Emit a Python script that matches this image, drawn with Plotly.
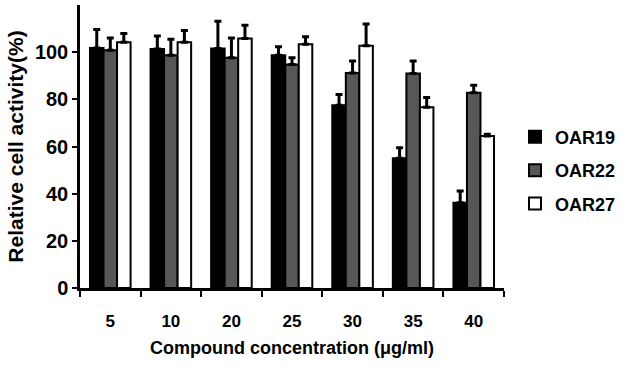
import plotly.graph_objects as go

categories = ["5", "10", "20", "25", "30", "35", "40"]
series_names = ["OAR19", "OAR22", "OAR27"]
oar19 = [101.8, 101.3, 101.6, 98.7, 77.5, 55.0, 36.1]
oar19_err = [7.8, 5.6, 11.5, 3.6, 4.6, 4.5, 5.0]
oar22 = [100.8, 98.7, 97.6, 94.8, 91.2, 91.0, 82.8]
oar22_err = [5.2, 6.8, 8.4, 2.8, 5.1, 5.3, 3.2]
oar27 = [104.2, 104.2, 105.8, 103.4, 102.7, 76.6, 64.4]
oar27_err = [3.7, 5.0, 5.6, 3.1, 9.2, 4.2, 0.8]
y_ticks = [0, 20, 40, 60, 80, 100]

colors = ["#000000", "#575757", "#ffffff"]
values = [oar19, oar22, oar27]
errors = [oar19_err, oar22_err, oar27_err]

FONT = "Liberation Sans, Arial, sans-serif"
fig = go.Figure()
for name, vals, errs, col in zip(series_names, values, errors, colors):
    fig.add_trace(go.Bar(
        x=categories, y=vals, name=name, legendgroup=name,
        marker=dict(color=col, line=dict(color="#000000", width=2)),
        error_y=dict(type="data", symmetric=False, array=errs,
                     arrayminus=[0] * len(errs), color="#000000",
                     thickness=3, width=3.5),
    ))

fig.update_layout(
    width=622, height=366,
    margin=dict(l=80, r=118, t=5, b=78, autoexpand=False),
    plot_bgcolor="white", paper_bgcolor="white",
    barmode="group", bargap=0.33, bargroupgap=0,
    font=dict(family=FONT, size=16, color="#000000", weight="bold"),
    showlegend=True,
    legend=dict(x=(515 - 80) / 424, y=0.415, xanchor="left", yanchor="middle",
                traceorder="grouped", tracegroupgap=7,
                font=dict(family=FONT, size=18, color="#000000", weight="bold"),
                itemwidth=30),
    xaxis=dict(
        automargin=False,
        showline=True, linecolor="#000000", linewidth=2.5,
        ticks="outside", ticklen=6, tickwidth=2, tickcolor="#000000",
        tickson="boundaries", showgrid=False, ticklabelstandoff=16,
        tickfont=dict(family=FONT, size=17, weight="bold"),
        title=dict(text="Compound concentration (μg/ml)",
                   font=dict(family=FONT, size=18, weight="bold"), standoff=12),
    ),
    yaxis=dict(
        automargin=False,
        range=[0, 120], tickvals=y_ticks,
        showline=True, linecolor="#000000", linewidth=2.5,
        ticks="outside", ticklen=5, tickwidth=2, tickcolor="#000000",
        showgrid=False, zeroline=False,
        tickfont=dict(family=FONT, size=20, weight="bold"),
        title=dict(text="Relative cell activity(%)",
                   font=dict(family=FONT, size=21, weight="bold"), standoff=6),
    ),
)

fig.write_html("out.html", config={"displayModeBar": False},
               post_script="document.body.style.margin='0';")
